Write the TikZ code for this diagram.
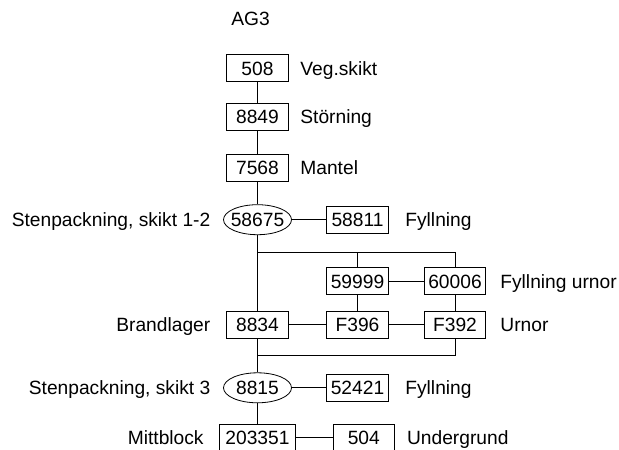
\documentclass[tikz,border=0pt]{standalone}
\usepackage{fontspec}
\setmainfont{Liberation Sans}
\usetikzlibrary{shapes.geometric}
\tikzset{
  box/.style={draw, minimum width=46pt, minimum height=20.3pt, inner xsep=3pt, inner ysep=0pt, text height=10.3pt, text depth=0pt},
  oval/.style={draw, ellipse, minimum width=51pt, minimum height=22.5pt, inner xsep=-3pt, inner ysep=0pt, text height=10.3pt, text depth=0pt},
  lbl/.style={inner sep=0pt, text height=10.3pt, text depth=0pt}
}
\begin{document}
\begin{tikzpicture}[x=0.75pt, y=-0.75pt, font=\fontsize{14.4}{17}\selectfont, line width=0.6pt]
\useasboundingbox (0,0) rectangle (619,450);
\clip (0,0) rectangle (619,450);
\def\ca{257.5}
\def\cb{357.5}
\def\cc{455}
\node[lbl] (title) at (250.5,19) {AG3};
\node[box] (n508) at (\ca,68.3) {508};
\node[lbl, anchor=west] (l508) at (300,68.3) {Veg.skikt};
\node[box] (n8849) at (\ca,116.7) {8849};
\node[lbl, anchor=west] (l8849) at (300,116.7) {Störning};
\node[box] (n7568) at (\ca,167.8) {7568};
\node[lbl, anchor=west] (l7568) at (300,167.8) {Mantel};
\node[oval] (n58675) at (\ca,219.7) {58675};
\node[lbl, anchor=east] (l58675) at (210.7,219.7) {Stenpackning, skikt 1-2};
\node[box] (n58811) at (\cb,219.7) {58811};
\node[lbl, anchor=west] (l58811) at (405,219.7) {Fyllning};
\node[box] (n59999) at (\cb,281.3) {59999};
\node[box] (n60006) at (\cc,281.3) {60006};
\node[lbl, anchor=west] (l60006) at (500,281.3) {Fyllning urnor};
\node[box] (n8834) at (\ca,324.7) {8834};
\node[lbl, anchor=east] (l8834) at (210.7,324.7) {Brandlager};
\node[box] (nF396) at (\cb,324.7) {F396};
\node[box] (nF392) at (\cc,324.7) {F392};
\node[lbl, anchor=west] (lF392) at (500,324.7) {Urnor};
\node[oval] (n8815) at (\ca,387.8) {8815};
\node[lbl, anchor=east] (l8815) at (210.7,387.8) {Stenpackning, skikt 3};
\node[box] (n52421) at (\cb,387.8) {52421};
\node[lbl, anchor=west] (l52421) at (405,387.8) {Fyllning};
\node[box, minimum width=57pt] (n203351) at (\ca,437.7) {203351};
\node[lbl, anchor=east] (l203351) at (204,437.7) {Mittblock};
\node[box] (n504) at (363.8,437.7) {504};
\node[lbl, anchor=west] (l504) at (406.7,437.7) {Undergrund};
\coordinate (split) at (\ca,252.3);
\coordinate (join) at (\ca,355);

% trunk
\draw (n508) -- (n8849) -- (n7568) -- (n58675) -- (n8834) -- (n8815) -- (n203351);
% branches
\draw (n58675) -- (n58811);
\draw (split) -| (n60006);
\draw (split -| n59999) -- (n59999);
\draw (n59999) -- (n60006);
\draw (n59999) -- (nF396);
\draw (n60006) -- (nF392);
\draw (n8834) -- (nF396) -- (nF392);
\draw (nF392) |- (join);
\draw (n8815) -- (n52421);
\draw (n203351) -- (n504);
\end{tikzpicture}
\end{document}
